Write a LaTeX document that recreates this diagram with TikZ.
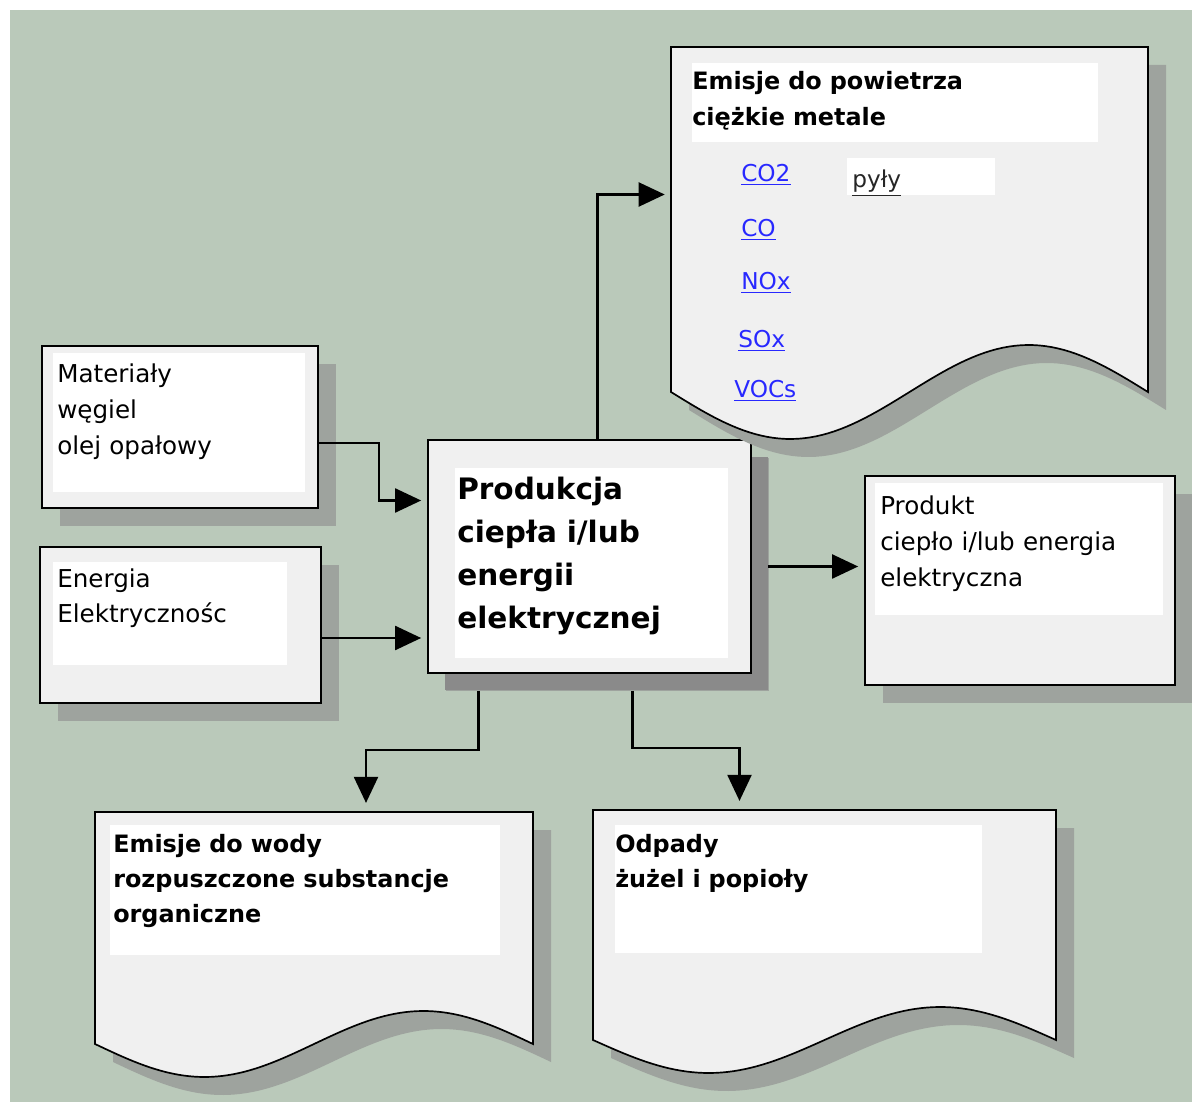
\documentclass[tikz,border=0pt]{standalone}
\usepackage{fontspec}
\setmainfont{DejaVu Sans}
\usepackage{tikz}
\usetikzlibrary{arrows.meta, positioning, fit, calc, shadows}

\definecolor{sage}{RGB}{186,201,186}
\definecolor{shadowgray}{RGB}{158,163,158}
\definecolor{darkshadow}{RGB}{138,138,138}
\definecolor{paper}{RGB}{240,240,240}
\definecolor{linkblue}{RGB}{40,40,255}

\newcommand{\lnk}[1]{\textcolor{linkblue}{\underline{#1}}}

\begin{document}
\begin{tikzpicture}[x=0.025cm, y=-0.025cm,
  box/.style={draw=black, line width=1.2pt, fill=paper, inner sep=0pt,
              drop shadow={shadow xshift=0.45cm, shadow yshift=-0.45cm,
                           opacity=1, fill=shadowgray}},
  mainbox/.style={box, drop shadow={shadow xshift=0.42cm, shadow yshift=-0.43cm,
                           opacity=1, fill=darkshadow}},
  docbox/.style={box},
  whitearea/.style={fill=white},
  txt/.style={anchor=base west, align=left, text width=12cm, inner sep=0pt,
              font=\fontsize{17.5}{25.6}\selectfont},
  boldtxt/.style={txt, font=\fontsize{17}{25.2}\selectfont\bfseries},
  linktxt/.style={anchor=base west, inner sep=0pt, font=\fontsize{16.5}{20}\selectfont},
  arrow/.style={-{Triangle[length=0.65cm, width=0.6cm]}, line width=1.5pt,
                shorten >=0.15cm}
]

% background
\useasboundingbox (0,0) rectangle (1192,1102);
\fill[sage] (10,10) rectangle (1192,1102);

% input boxes
\node[box, fit={(42,346) (318,508)}] (materialy) {};
\node[box, fit={(40,547) (321,703)}] (energia) {};
\fill[whitearea] (53,353) rectangle (305,492);
\fill[whitearea] (53,562) rectangle (287,665);

% process
\node[mainbox, fit={(428,440) (751,673)}] (produkcja) {};
\fill[whitearea] (455,468) rectangle (728,658);

% product
\node[box, fit={(865,476) (1175,685)}] (produkt) {};
\fill[whitearea] (875,483) rectangle (1163,615);

% outputs (documents with wavy bottom)
\foreach \dl/\dt/\dr/\dm/\da in {671/47/1148/392/47, 95/812/533/1044/33, 593/810/1056/1040/33}
  \filldraw[docbox] (\dl,\dt) -- (\dl,\dm)
    -- plot[domain=\dl:\dr, samples=80] (\x,{\dm+\da*sin((\x-\dl)/(\dr-\dl)*360)})
    -- (\dr,\dt) -- cycle;
\node[fit={(671,47) (1148,392)}, inner sep=0pt] (powietrze) {};
\node[fit={(95,812) (533,1044)}, inner sep=0pt] (woda) {};
\node[fit={(593,810) (1056,1040)}, inner sep=0pt] (odpady) {};
\fill[whitearea] (692,63) rectangle (1098,142);
\fill[whitearea] (847,158) rectangle (995,195);
\fill[whitearea] (110,825) rectangle (500,955);
\fill[whitearea] (615,825) rectangle (982,953);

% texts
\node[txt] (materialy-txt) at (57,383) {Materiały\\węgiel\\olej opałowy};
\node[txt] (energia-txt) at (57,587) {Energia\\Elektrycznośc};
\node[txt] (produkt-txt) at (880,515) {Produkt\\ciepło i/lub energia\\elektryczna};
\node[txt, font=\fontsize{21}{30.5}\selectfont\bfseries] (produkcja-txt) at (457,500)
  {Produkcja\\ciepła i/lub\\energii\\elektrycznej};
\node[boldtxt] (powietrze-txt) at (692,90) {Emisje do powietrza\\ciężkie metale};
\node[boldtxt] (woda-txt) at (113,852) {Emisje do wody\\rozpuszczone substancje\\organiczne};
\node[boldtxt] (odpady-txt) at (615,852) {Odpady\\żużel i popioły};

\node[linktxt] (co2) at (741,182) {\lnk{CO2}};
\node[linktxt] (co) at (741,237) {\lnk{CO}};
\node[linktxt] (nox) at (741,290) {\lnk{NOx}};
\node[linktxt] (sox) at (738,348) {\lnk{SOx}};
\node[linktxt] (vocs) at (734,398) {\lnk{VOCs}};
\node[linktxt, text=black!85] (pyly) at (852,188) {\underline{pyły}};

% connectors
\draw[arrow] ($(materialy.east)+(0,16)$) -- ++(60,0) |- ($(produkcja.west)+(0,-56)$);
\draw[arrow] ($(energia.east)+(0,13)$) coordinate (e1) -- (e1 -| produkcja.west);
\draw[arrow] ($(produkcja.north)+(8,0)$) |- ($(powietrze.west)+(0,-25)$);
\draw[arrow] ($(produkcja.east)+(16,10)$) coordinate (p1) -- (p1 -| produkt.west);
\draw[arrow, shorten >=0.22cm] ($(produkcja.south)+(-111,17)$) -- ++(0,59) -| ($(woda.north)+(52,0)$);
\draw[arrow, shorten >=0.22cm] ($(produkcja.south)+(43,17)$) -- ++(0,57) -| ($(odpady.north)+(-85,0)$);

\end{tikzpicture}
\end{document}
